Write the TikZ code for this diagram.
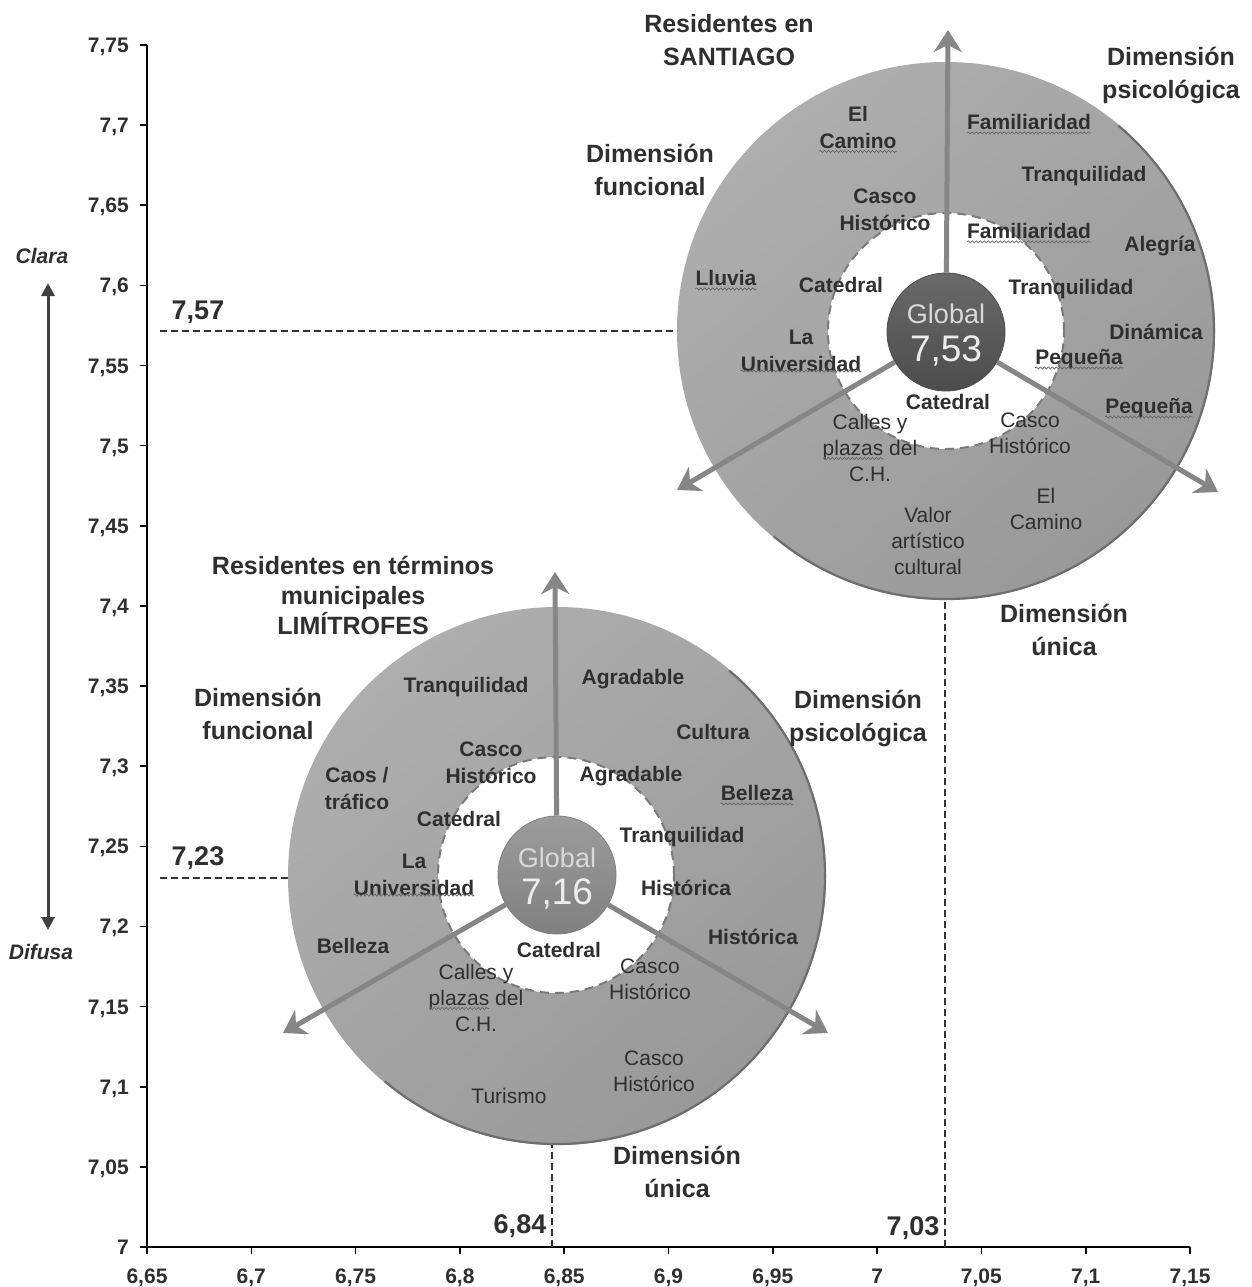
\documentclass[tikz,border=0pt]{standalone}
\usepackage{fontspec}
\setmainfont{Liberation Sans}
\usetikzlibrary{arrows.meta,decorations.pathmorphing}
\definecolor{txt}{HTML}{2F2F2F}
\definecolor{arrg}{HTML}{868686}
\definecolor{edgeg}{HTML}{6E6E6E}
\definecolor{dashg}{HTML}{7A7A7A}
\definecolor{diskl}{HTML}{AEAEAE}
\definecolor{diskd}{HTML}{999999}
\definecolor{gdarkl}{HTML}{6A6A6A}
\definecolor{gdarkd}{HTML}{4C4C4C}
\definecolor{glightl}{HTML}{9C9C9C}
\definecolor{glightd}{HTML}{808080}
\begin{document}
\begin{tikzpicture}[x=1pt,y=-1pt,
  lbl/.style={font=\bfseries\fontsize{21}{27}\selectfont, text=txt, align=center, inner sep=0pt},
  lblr/.style={font=\fontsize{21}{26}\selectfont, text=txt, align=center, inner sep=0pt},
  dimlbl/.style={font=\bfseries\fontsize{25}{33}\selectfont, text=txt, align=center, inner sep=0pt},
  ticklbl/.style={font=\bfseries\fontsize{21}{22}\selectfont, text=txt, inner sep=0pt},
  vallbl/.style={font=\bfseries\fontsize{27}{30}\selectfont, text=txt, inner sep=0pt},
  glbl/.style={font=\fontsize{27}{27}\selectfont, text=white!85!black, inner sep=0pt},
  gnum/.style={font=\fontsize{37}{37}\selectfont, text=white!93!black, inner sep=0pt},
  arr/.style={draw=arrg, line width=5pt, -{Stealth[length=22pt,width=28pt,inset=7pt,fill=arrg]}},
  guide/.style={draw=black!80, line width=1.4pt, dash pattern=on 7pt off 4pt},
  outerdisk/.style={circle, inner sep=0pt, outer sep=0pt, minimum size=538pt, top color=diskl, bottom color=diskd, shading angle=40},
  innerdisk/.style={circle, inner sep=0pt, outer sep=0pt, minimum size=236pt, fill=white, draw=dashg, line width=2pt, dash pattern=on 9pt off 6pt},
  rimring/.style={circle, inner sep=0pt, outer sep=0pt, minimum size=536pt, draw=edgeg, line width=2.2pt},
  axisline/.style={draw=black, line width=2.2pt},
  tickmark/.style={draw=black, line width=1.6pt},
  wavy/.style={draw=black!60, line width=0.7pt, decorate, decoration={snake, amplitude=1.1pt, segment length=4pt}}
]
\useasboundingbox (0,0) rectangle (1251,1287);
\fill[white] (0,0) rectangle (1251,1287);

% ---------- axes ----------
\coordinate (ytop) at (147,45);
\coordinate (orig) at (147,1247);
\coordinate (xend) at (1190,1247);
\draw[axisline] (ytop) -- (orig) -- (xend);
\foreach \i/\t in {0/7,1/{7,05},2/{7,1},3/{7,15},4/{7,2},5/{7,25},6/{7,3},7/{7,35},8/{7,4},9/{7,45},10/{7,5},11/{7,55},12/{7,6},13/{7,65},14/{7,7},15/{7,75}}{
  \draw[tickmark] (140,{1247-\i*80.133}) -- (147,{1247-\i*80.133});
  \node[ticklbl, anchor=base east] (yl\i) at (129,{1247-\i*80.133+7.5}) {\t};
}
\foreach \i/\t in {0/{6,65},1/{6,7},2/{6,75},3/{6,8},4/{6,85},5/{6,9},6/{6,95},7/7,8/{7,05},9/{7,1},10/{7,15}}{
  \draw[tickmark] ({147+\i*104.3},1247) -- ({147+\i*104.3},1254);
  \node[ticklbl, anchor=base] (xl\i) at ({147+\i*104.3},1283) {\t};
}

% Clara / Difusa
\coordinate (clT) at (48,283);
\coordinate (clB) at (48,930);
\draw[draw=black!75, line width=3pt, {Triangle[length=13pt,width=13pt]}-{Triangle[length=13pt,width=13pt]}] (clT) -- (clB);
\node[font=\bfseries\itshape\fontsize{21}{22}\selectfont, text=txt] (clara) at (42,256) {Clara};
\node[font=\bfseries\itshape\fontsize{21}{22}\selectfont, text=txt] (difusa) at (41,952) {Difusa};

% ---------- upper diagram ----------
\node[outerdisk] (o1) at (946,331) {};
\begin{scope}
  \clip (1139,101) -- (753,561) -- (983,754) -- (1369,294) -- cycle;
  \node[rimring] (rim1) at (o1) {};
\end{scope}
\node[innerdisk] (d1) at (946,331) {};
\node[circle, inner sep=0pt, minimum size=118pt, top color=gdarkl, bottom color=gdarkd, draw=gdarkd, line width=0.8pt] (g1) at (946,332) {};
\coordinate (u1t) at (948,30);
\coordinate (u1l) at (677,490);
\coordinate (u1r) at (1218,492);
\draw[arr] (g1) -- (u1t);
\draw[arr] (g1) -- (u1l);
\draw[arr] (g1) -- (u1r);
\node[glbl] (g1a) at (946,314) {Global};
\node[gnum] (g1b) at (946,351) {7,53};

% guide lines upper
\coordinate (h1) at (160,331);
\draw[guide] (h1) -- (o1.west);
\coordinate (v1) at (945,1247);
\draw[guide] (v1) -- (v1 |- o1.south);

\node[dimlbl] (r1) at (729,40) {Residentes en\\SANTIAGO};
\node[dimlbl] (dp1) at (1171,75) {Dimensión\\psicológica};
\node[dimlbl] (df1) at (650,170) {Dimensión\\funcional};
\node[dimlbl] (du1) at (1064,630) {Dimensión\\única};

\node[lbl] (a1) at (858,127) {El\\Camino};
\node[lbl] (a2) at (1029,122) {Familiaridad};
\node[lbl] (a3) at (1084,176) {Tranquilidad};
\node[lbl] (a4) at (885,210) {Casco\\Histórico};
\node[lbl] (a5) at (1029,231) {Familiaridad};
\node[lbl] (a6) at (1160,246) {Alegría};
\node[lbl] (a7) at (726,278) {Lluvia};
\node[lbl] (a8) at (841,285) {Catedral};
\node[lbl] (a9) at (1071,289) {Tranquilidad};
\node[lbl] (a10) at (801,351) {La\\Universidad};
\node[lbl] (a11) at (1156,332) {Dinámica};
\node[lbl] (a12) at (1079,359) {Pequeña};
\node[lbl] (a13) at (948,402) {Catedral};
\node[lbl] (a14) at (1149,408) {Pequeña};
\node[lblr] (a15) at (870,448) {Calles y\\plazas del\\C.H.};
\node[lblr] (a16) at (1030,433) {Casco\\Histórico};
\node[lblr] (a17) at (1046,509) {El\\Camino};
\node[lblr] (a18) at (928,541) {Valor\\artístico\\cultural};

\draw[wavy] ([yshift=-3pt]a1.south west) -- ([yshift=-3pt]a1.south east);
\draw[wavy] ([yshift=-3pt]a2.south west) -- ([yshift=-3pt]a2.south east);
\draw[wavy] ([yshift=-3pt]a5.south west) -- ([yshift=-3pt]a5.south east);
\draw[wavy] ([yshift=-3pt]a7.south west) -- ([yshift=-3pt]a7.south east);
\draw[wavy] ([yshift=1pt]a10.south west) -- ([yshift=1pt]a10.south east);
\draw[wavy] ([yshift=1pt]a12.south west) -- ([yshift=1pt]a12.south east);
\draw[wavy] ([yshift=1pt]a14.south west) -- ([yshift=1pt]a14.south east);
\draw[wavy] ([xshift=-47pt,yshift=-10.5pt]a15.center) -- ([xshift=13pt,yshift=-10.5pt]a15.center);

% ---------- lower diagram ----------
\node[outerdisk] (o2) at (557,876) {};
\begin{scope}
  \clip (750,646) -- (364,1106) -- (594,1299) -- (980,839) -- cycle;
  \node[rimring] (rim2) at (o2) {};
\end{scope}
\node[innerdisk] (d2) at (556,875) {};
\node[circle, inner sep=0pt, minimum size=118pt, top color=glightl, bottom color=glightd, draw=glightd, line width=0.8pt] (g2) at (557,875) {};
\coordinate (u2t) at (555,572);
\coordinate (u2l) at (283,1033);
\coordinate (u2r) at (828,1033);
\draw[arr] (g2) -- (u2t);
\draw[arr] (g2) -- (u2l);
\draw[arr] (g2) -- (u2r);
\node[glbl] (g2a) at (557,858) {Global};
\node[gnum] (g2b) at (557,894) {7,16};

% guide lines lower
\coordinate (h2) at (160,878);
\draw[guide] (h2) -- (h2 -| o2.west);
\coordinate (v2) at (552,1247);
\draw[guide] (v2) -- (v2 |- o2.south);

\node[dimlbl, font=\bfseries\fontsize{25}{30}\selectfont] (r2) at (353,595) {Residentes en términos\\municipales\\LIMÍTROFES};
\node[dimlbl] (df2) at (258,714) {Dimensión\\funcional};
\node[dimlbl] (dp2) at (858,718) {Dimensión\\psicológica};
\node[dimlbl] (du2) at (677,1172) {Dimensión\\única};

\node[lbl] (b1) at (466,687) {Tranquilidad};
\node[lbl] (b2) at (633,679) {Agradable};
\node[lbl] (b3) at (713,732) {Cultura};
\node[lbl] (b4) at (491,763) {Casco\\Histórico};
\node[lbl] (b5) at (357,788) {Caos /\\tráfico};
\node[lbl] (b6) at (631,776) {Agradable};
\node[lbl] (b7) at (757,793) {Belleza};
\node[lbl] (b8) at (459,819) {Catedral};
\node[lbl] (b9) at (682,837) {Tranquilidad};
\node[lbl] (b10) at (414,875) {La\\Universidad};
\node[lbl] (b11) at (686,888) {Histórica};
\node[lbl] (b12) at (353,946) {Belleza};
\node[lbl] (b13) at (753,937) {Histórica};
\node[lbl] (b14) at (559,950) {Catedral};
\node[lblr] (b15) at (476,998) {Calles y\\plazas del\\C.H.};
\node[lblr] (b16) at (650,979) {Casco\\Histórico};
\node[lblr] (b17) at (654,1071) {Casco\\Histórico};
\node[lblr] (b18) at (509,1096) {Turismo};

\draw[wavy] ([yshift=-3pt]b7.south west) -- ([yshift=-3pt]b7.south east);
\draw[wavy] ([yshift=1pt]b10.south west) -- ([yshift=1pt]b10.south east);
\draw[wavy] ([xshift=-47pt,yshift=-10.5pt]b15.center) -- ([xshift=13pt,yshift=-10.5pt]b15.center);

% value labels
\node[vallbl] (v757) at (198,312) {7,57};
\node[vallbl] (v723) at (198,858) {7,23};
\node[vallbl] (v684) at (520,1226) {6,84};
\node[vallbl] (v703) at (913,1228) {7,03};
\end{tikzpicture}
\end{document}
